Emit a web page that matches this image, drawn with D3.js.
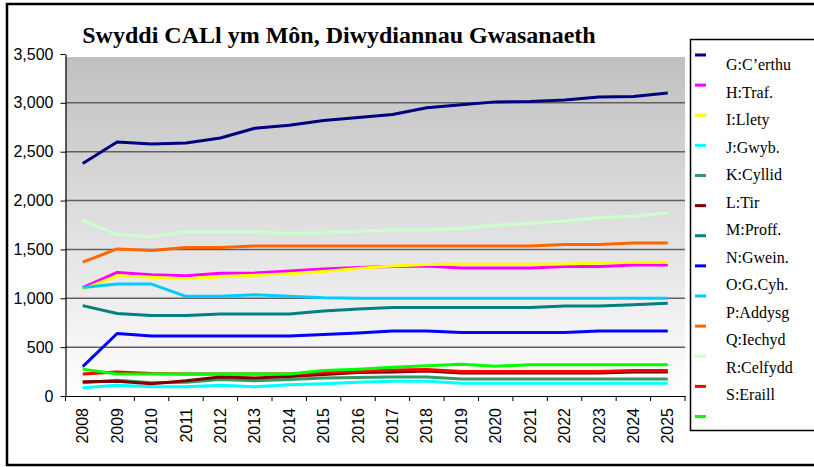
<!DOCTYPE html>
<html>
<head>
<meta charset="utf-8">
<script src="https://cdn.jsdelivr.net/npm/d3@7"></script>
<style>
body { margin: 0; background: #fff; }
.ticks text { font-family: "Liberation Sans", Arial, sans-serif; font-size: 16px; fill: #000; }
.legend text { font-family: "Liberation Serif", "Times New Roman", serif; font-size: 16px; fill: #000; }
.title { font-family: "Liberation Serif", "Times New Roman", serif; font-size: 24px; font-weight: bold; }
</style>
</head>
<body>
<svg class="chart" width="814" height="467"></svg>
<script>
const years = ["2008", "2009", "2010", "2011", "2012", "2013", "2014", "2015", "2016",
	"2017", "2018", "2019", "2020", "2021", "2022", "2023", "2024", "2025"]

// values, one array per sector
const gCerthu = [2380, 2600, 2580, 2590, 2640, 2740, 2770, 2820, 2850, 2880, 2950, 2980, 3010, 3015, 3030, 3060, 3065, 3100]
const hTraf = [1110, 1265, 1240, 1230, 1255, 1260, 1280, 1300, 1315, 1325, 1330, 1310, 1310, 1310, 1325, 1325, 1340, 1340]
const iLlety = [1090, 1230, 1215, 1200, 1220, 1235, 1250, 1275, 1305, 1330, 1345, 1350, 1350, 1350, 1350, 1360, 1370, 1370]
const jGwyb = [85, 110, 95, 95, 110, 95, 115, 125, 140, 150, 150, 130, 130, 130, 130, 130, 130, 130]
const kCyllid = [135, 160, 135, 140, 170, 155, 170, 185, 190, 195, 195, 175, 175, 175, 175, 175, 175, 175]
const lTir = [145, 150, 125, 155, 195, 185, 200, 220, 240, 245, 255, 235, 235, 235, 235, 235, 245, 245]
const mProff = [925, 845, 825, 825, 840, 840, 840, 870, 890, 905, 905, 905, 905, 905, 920, 920, 935, 950]
const nGwein = [300, 640, 615, 615, 615, 615, 615, 630, 645, 665, 665, 650, 650, 650, 650, 665, 665, 665]
const oGCyh = [1110, 1145, 1145, 1020, 1020, 1035, 1020, 1005, 1000, 1000, 1000, 1000, 1000, 1000, 1000, 1000, 1000, 1000]
const pAddysg = [1370, 1505, 1490, 1520, 1520, 1535, 1535, 1535, 1535, 1535, 1535, 1535, 1535, 1535, 1550, 1550, 1565, 1565]
const qIechyd = [1800, 1650, 1630, 1680, 1680, 1675, 1665, 1670, 1685, 1700, 1700, 1715, 1750, 1765, 1790, 1825, 1840, 1875]
const rCelfydd = [225, 245, 230, 225, 225, 225, 225, 240, 250, 265, 270, 250, 250, 250, 250, 250, 260, 260]
const sEraill = [275, 225, 225, 225, 225, 225, 225, 260, 275, 295, 310, 325, 305, 320, 320, 320, 320, 320]

const seriesNames = ["G:C’erthu", "H:Traf.", "I:Llety", "J:Gwyb.", "K:Cyllid", "L:Tir", "M:Proff.",
	"N:Gwein.", "O:G.Cyh.", "P:Addysg", "Q:Iechyd", "R:Celfydd", "S:Eraill"]
const seriesValues = [gCerthu, hTraf, iLlety, jGwyb, kCyllid, lTir, mProff, nGwein, oGCyh, pAddysg, qIechyd, rCelfydd, sEraill]
const seriesColors = ["#000080", "#ff00ff", "#ffff00", "#00ffff", "#339966", "#800000", "#008080",
	"#0000ff", "#00ccff", "#ff6600", "#ccffcc", "#ff0000", "#00ff00"]

const yTicks = [0, 500, 1000, 1500, 2000, 2500, 3000, 3500]

const svg = d3.select("svg.chart")

const x = d3.scaleBand().domain(years).range([65.5, 685])
const y = d3.scaleLinear().domain([0, 3500]).range([396, 54])

// outer frame
svg.append("rect")
	.attr("x", 7).attr("y", 4)
	.attr("width", 830).attr("height", 461)
	.attr("fill", "#fff")
	.attr("stroke", "#000")
	.attr("stroke-width", 2.5)

// grey fade behind the plot
const grad = svg.append("defs").append("linearGradient")
	.attr("id", "bg").attr("x1", 0).attr("y1", 0).attr("x2", 0).attr("y2", 1)
grad.append("stop").attr("offset", 0).attr("stop-color", "#c0c0c0")
grad.append("stop").attr("offset", 1).attr("stop-color", "#ffffff")

svg.append("rect")
	.attr("x", x.range()[0])
	.attr("y", y(3500) + 3)
	.attr("width", x.range()[1] - x.range()[0])
	.attr("height", y(0) - y(3500) - 3)
	.attr("fill", "url(#bg)")

// horizontal gridlines
svg.append("g")
	.selectAll("line")
	.data(yTicks.filter(d => d > 0 && d < 3500))
	.enter()
	.append("line")
	.attr("x1", x.range()[0])
	.attr("x2", x.range()[1])
	.attr("y1", d => y(d))
	.attr("y2", d => y(d))
	.attr("stroke", "#606060")
	.attr("stroke-width", 1.5)

// y axis
const yAxis = svg.append("g")
	.attr("class", "ticks")
	.attr("transform", "translate(" + x.range()[0] + ",0)")
	.call(d3.axisLeft(y).tickValues(yTicks).tickFormat(d3.format(",")).tickSize(5).tickSizeOuter(0).tickPadding(7))
yAxis.select(".domain").attr("stroke", "#000").attr("stroke-width", 1.2)
yAxis.selectAll("line").attr("stroke", "#000")

// x axis, labels turned on their side
const xAxis = svg.append("g")
	.attr("class", "ticks")
	.attr("transform", "translate(0," + y(0) + ")")
	.call(d3.axisBottom(x).tickSize(0).tickSizeOuter(0))
xAxis.select(".domain").attr("stroke", "#000").attr("stroke-width", 1.2)
xAxis.selectAll("text")
	.attr("x", -12)
	.attr("y", 0)
	.attr("dy", "0.35em")
	.attr("transform", "rotate(-90)")
	.style("text-anchor", "end")

// tick marks sit between the years
xAxis.selectAll("line.edge")
	.data(years.map(d => x(d)).concat([x.range()[1]]))
	.enter()
	.append("line")
	.attr("class", "edge")
	.attr("x1", d => d).attr("x2", d => d)
	.attr("y1", 0).attr("y2", 5)
	.attr("stroke", "#000")

// the lines
const line = d3.line()
	.x((d, i) => { return x(years[i]) + x.bandwidth() / 2 })
	.y(d => y(d))

svg.append("g")
	.selectAll("path")
	.data(seriesValues)
	.enter()
	.append("path")
	.attr("d", line)
	.attr("fill", "none")
	.attr("stroke", (d, i) => seriesColors[i])
	.attr("stroke-width", 3)
	.attr("stroke-linejoin", "round")

// title
svg.append("text")
	.attr("class", "title")
	.attr("x", 339)
	.attr("y", 43)
	.attr("text-anchor", "middle")
	.text("Swyddi CALl ym Môn, Diwydiannau Gwasanaeth")

// legend (labels drift against the swatches, as in the original)
const legend = svg.append("g").attr("class", "legend")
legend.append("rect")
	.attr("x", 690.5).attr("y", 39.5)
	.attr("width", 200).attr("height", 391)
	.attr("fill", "#fff")
	.attr("stroke", "#000")
	.attr("stroke-width", 1.5)

const swatchY = d3.scaleLinear().domain([0, 12]).range([55, 416.5])
const labelY = d3.scaleLinear().domain([0, 12]).range([70, 400])

legend.selectAll("line")
	.data(seriesColors)
	.enter()
	.append("line")
	.attr("x1", 695).attr("x2", 706)
	.attr("y1", (d, i) => swatchY(i))
	.attr("y2", (d, i) => swatchY(i))
	.attr("stroke", d => d)
	.attr("stroke-width", 3)

legend.selectAll("text")
	.data(seriesNames)
	.enter()
	.append("text")
	.attr("x", 726)
	.attr("y", (d, i) => labelY(i))
	.text(d => d)
</script>
</body>
</html>
